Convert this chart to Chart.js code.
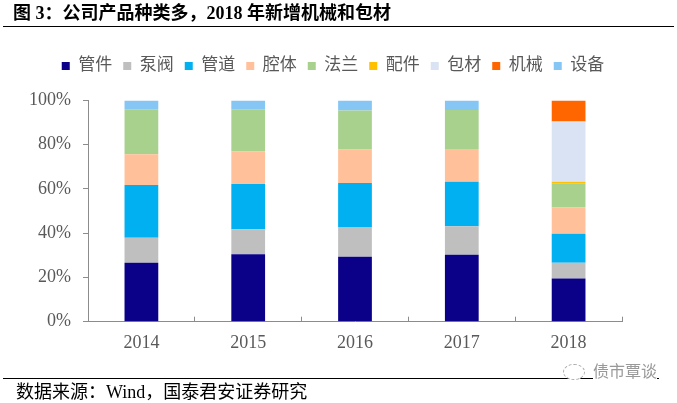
<!DOCTYPE html>
<html>
<head>
<meta charset="utf-8">
<script src="https://cdn.jsdelivr.net/npm/chart.js@4.4.1/dist/chart.umd.min.js"></script>
<style>
  html, body { margin:0; padding:0; background:#fff; }
  #wrap { position:relative; width:677px; height:403px; overflow:hidden; }
  #c { position:absolute; left:0; top:0; }
  .t { position:absolute; white-space:nowrap; font-family:'Liberation Serif','Noto Sans CJK SC',serif; }
  .line { position:absolute; background:#000; height:1px; }
</style>
</head>
<body>
<div id="wrap">
  <canvas id="c" width="677" height="403"></canvas>
  <div class="t" style="left:13px;top:1px;font-size:18px;line-height:24px;font-weight:bold;color:#000;">图 3：公司产品种类多，2018 年新增机械和包材</div>
  <div class="line" style="left:3px;top:26px;width:671px;"></div>
  <div class="line" style="left:3px;top:378px;width:656px;"></div>
  <div class="t" style="left:16px;top:381px;font-size:18px;line-height:22px;color:#000;">数据来源：Wind，国泰君安证券研究</div>
  <div style="position:absolute;left:563px;top:364px;width:20px;height:14px;border:1px dashed #aaa;border-radius:50%;background:#fff;"></div>
  <div class="t" style="left:593px;top:362px;font-size:16px;line-height:20px;color:#999;background:#fff;">债市覃谈</div>
</div>
<script>
const years = ['2014', '2015', '2016', '2017', '2018'];
const guanjian = [26.7, 30.5, 29.4, 30.3, 19.5];
const bengfa   = [11.3, 11.3, 13.4, 12.8, 7.2];
const guandao  = [23.8, 20.5, 19.9, 20.2, 13.1];
const qiangti  = [13.9, 14.8, 15.2, 14.8, 11.9];
const falan    = [20.4, 19.0, 17.6, 17.6, 10.7];
const peijian  = [0, 0, 0, 0, 0.9];
const baocai   = [0, 0, 0, 0, 27.2];
const jixie    = [0, 0, 0, 0, 9.5];
const shebei   = [3.9, 3.9, 4.5, 4.3, 0];
const yTicks = [0, 20, 40, 60, 80, 100];

const seriesNames = ['管件', '泵阀', '管道', '腔体', '法兰', '配件', '包材', '机械', '设备'];
const seriesData = [guanjian, bengfa, guandao, qiangti, falan, peijian, baocai, jixie, shebei];
const seriesColors = ['#0B0088', '#BFBFBF', '#00B0F0', '#FFC09A', '#A9D18E', '#FFC000', '#DAE3F3', '#FF6600', '#85C6F5'];

const fontFam = "'Liberation Serif','Noto Sans CJK SC',serif";

const legendGap = {
  id: 'legendGap',
  beforeInit(chart) {
    const lg = chart.legend;
    if (!lg) return;
    const orig = lg.fit;
    lg.fit = function () { orig.call(this); this.height += 16; };
  },
  afterLayout(chart) {
    if (chart.legend) chart.legend.left = 44;
  }
};

new Chart(document.getElementById('c'), {
  type: 'bar',
  data: {
    labels: years,
    datasets: seriesNames.map((n, i) => ({
      label: n,
      data: seriesData[i],
      backgroundColor: seriesColors[i],
      borderWidth: 0,
      barPercentage: 0.316,
      categoryPercentage: 1.0
    }))
  },
  options: {
    responsive: false,
    animation: false,
    devicePixelRatio: 1,
    layout: { padding: { left: 0, right: 55, top: 46.5, bottom: 0 } },
    plugins: {
      legend: {
        position: 'top',
        labels: {
          boxWidth: 8, boxHeight: 8, padding: 11,
          color: '#595959',
          font: { family: fontFam, size: 17 }
        }
      },
      tooltip: { enabled: false }
    },
    scales: {
      x: {
        stacked: true,
        grid: { display: true, drawOnChartArea: false, drawTicks: true, tickLength: -5, offset: true, color: '#8c8c8c' },
        border: { color: '#8c8c8c', width: 1 },
        ticks: { color: '#595959', padding: 16, font: { family: fontFam, size: 18 } },
        afterFit(s) { s.height = 81.3; }
      },
      y: {
        stacked: true,
        min: 0, max: 100,
        afterBuildTicks(s) { s.ticks = yTicks.map(v => ({ value: v })); },
        grid: { display: true, drawOnChartArea: false, drawTicks: true, tickLength: 5, color: '#8c8c8c' },
        border: { color: '#8c8c8c', width: 1 },
        ticks: { color: '#595959', padding: 12, font: { family: fontFam, size: 18 }, callback: v => v + '%' },
        afterFit(s) { s.width = 88; }
      }
    }
  },
  plugins: [legendGap]
});
</script>
</body>
</html>
